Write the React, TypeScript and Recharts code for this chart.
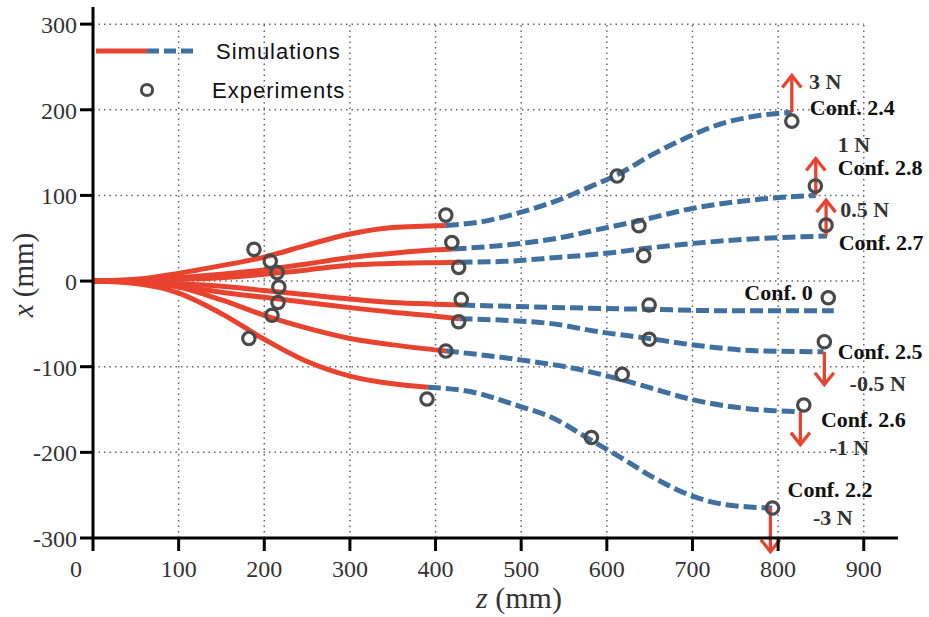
import React from 'react'
import {
  ComposedChart,
  Line,
  Scatter,
  XAxis,
  YAxis,
  ReferenceLine,
  ReferenceDot,
  Legend,
  Label,
} from 'recharts'

type Pt = { z: number; v: number }

const X_TICKS = [0, 100, 200, 300, 400, 500, 600, 700, 800, 900]
const Y_TICKS = [-300, -200, -100, 0, 100, 200, 300]
const GRID_Z = [100, 200, 300, 400, 500, 600, 700, 800, 900]
const GRID_X = [-200, -100, 0, 100, 200, 300]

// simulated trajectories: solid (first part) and dashed (second part), [z, x] in mm
const RED_24 = [[0, 0], [50, 2], [100, 9], [150, 18], [200, 28], [250, 42], [300, 55], [350, 62.5], [412, 65]]
const BLUE_24 = [[412, 65], [452, 69], [495, 79], [542, 94], [580, 110], [612, 124], [652, 147], [701, 171], [720, 179], [738, 185], [759, 190], [780, 193.5], [816, 197]]

const RED_28 = [[0, 0], [50, 1], [100, 4], [150, 8], [200, 13], [250, 20], [300, 27.5], [350, 32.5], [400, 36.5], [421, 37.5]]
const BLUE_28 = [[421, 37.5], [482, 42], [542, 50], [589, 60], [638, 70.5], [701, 85], [780, 95.7], [844, 100]]

const RED_27 = [[0, 0], [50, 0.5], [100, 2], [150, 4], [200, 8], [250, 13], [300, 18.5], [350, 20.5], [400, 21.5], [428, 22]]
const BLUE_27 = [[428, 22], [480, 23], [542, 27.6], [600, 32.5], [644, 38], [701, 44], [780, 49.8], [857, 52.5]]

const RED_0 = [[0, 0], [50, -0.5], [100, -3], [150, -6], [200, -11], [250, -16], [300, -21], [350, -25], [400, -27], [431, -28]]
const BLUE_0 = [[431, -28], [533, -30.7], [648, -33], [738, -34.6], [865, -34.6]]

const RED_25 = [[0, 0], [50, -1], [100, -6], [150, -13], [200, -19], [250, -25], [300, -31], [350, -36.5], [400, -41], [428, -44]]
const BLUE_25 = [[428, -44], [533, -49.4], [589, -59], [649, -67], [701, -74.6], [780, -81.6], [853, -82.5]]

const RED_26 = [[0, 0], [50, -1], [100, -7], [150, -22], [200, -40], [250, -55], [300, -67], [350, -74.5], [412, -81.6]]
const BLUE_26 = [[412, -81.6], [499, -92], [567, -103], [618, -115.4], [652, -125], [701, -138.7], [780, -150.4], [826, -152.5]]

const RED_22 = [[0, 0], [50, -3], [100, -14], [150, -38], [200, -68], [250, -94], [300, -111], [350, -120], [391, -124]]
const BLUE_22 = [[391, -124], [440, -129], [499, -146.5], [533, -158], [584, -187.3], [618, -207], [652, -228], [701, -251.5], [738, -261], [793, -265]]

// measured positions
const EXPERIMENTS = [
  [188, 37], [207, 23], [215, 10], [217, -7], [216, -25], [209, -40], [182, -67],
  [412, 77], [419, 45], [427, 16], [430, -21.4], [427, -47.5], [412, -81.7], [390, -137.7],
  [612, 122.6], [637.5, 64.6], [643, 29.6], [649.4, -28], [649.4, -68], [618, -109], [582, -182.7],
  [816, 186.7], [843.5, 111], [856, 65.3], [858.6, -19.5], [854, -70.8], [830, -144.7], [793.5, -265],
]

// applied end forces: z, start x, arrow tip x
const FORCE_ARROWS = [
  [816, 197, 240],
  [844, 100, 143],
  [856, 52.5, 94.5],
  [854, -82.5, -121],
  [826, -152.5, -191],
  [791, -265, -316],
]

const ANNOTATIONS: [number, number, string][] = [
  [836, 224, '3 N'],
  [837, 193.7, 'Conf. 2.4'],
  [869.5, 151, '1 N'],
  [869.5, 123.7, 'Conf. 2.8'],
  [872.7, 75, '0.5 N'],
  [870.7, 36, 'Conf. 2.7'],
  [760.5, -22.2, 'Conf. 0'],
  [869.5, -91, 'Conf. 2.5'],
  [883.5, -128, '-0.5 N'],
  [850, -170, 'Conf. 2.6'],
  [860, -203, '-1 N'],
  [811, -252.4, 'Conf. 2.2'],
  [840.7, -284.7, '-3 N'],
]

const toPts = (a: number[][]): Pt[] => a.map(([z, v]) => ({ z, v }))

const SERIES = [
  { id: '2.4', red: toPts(RED_24), blue: toPts(BLUE_24) },
  { id: '2.8', red: toPts(RED_28), blue: toPts(BLUE_28) },
  { id: '2.7', red: toPts(RED_27), blue: toPts(BLUE_27) },
  { id: '0', red: toPts(RED_0), blue: toPts(BLUE_0) },
  { id: '2.5', red: toPts(RED_25), blue: toPts(BLUE_25) },
  { id: '2.6', red: toPts(RED_26), blue: toPts(BLUE_26) },
  { id: '2.2', red: toPts(RED_22), blue: toPts(BLUE_22) },
]

const RED = '#e8432f'
const BLUE = '#40709f'
const SERIF = '"Liberation Serif", "Times New Roman", serif'
const SANS = '"Liberation Sans", Arial, sans-serif'

// eslint-disable-next-line @typescript-eslint/no-explicit-any
function XTick({ x, y, payload }: any) {
  const dx = payload.value === 0 ? -17 : 0
  return (
    <text x={x + dx} y={y + 24} textAnchor="middle" fontSize={24} fontFamily={SERIF} fill="#333">
      {payload.value}
    </text>
  )
}

// eslint-disable-next-line @typescript-eslint/no-explicit-any
function YTick({ x, y, payload }: any) {
  return (
    <text x={x - 1} y={y + 9} textAnchor="end" fontSize={24} fontFamily={SERIF} fill="#333">
      {payload.value}
    </text>
  )
}

// eslint-disable-next-line @typescript-eslint/no-explicit-any
function XLabel({ viewBox }: any) {
  return (
    <text x={viewBox.x + 426} y={viewBox.y + 70} textAnchor="middle" fontSize={30} fontFamily={SERIF} fill="#333">
      <tspan fontStyle="italic">z</tspan> (mm)
    </text>
  )
}

// eslint-disable-next-line @typescript-eslint/no-explicit-any
function YLabel({ viewBox }: any) {
  const cx = viewBox.x + 33
  const cy = viewBox.y + 268
  return (
    <text x={cx} y={cy} transform={`rotate(-90, ${cx}, ${cy})`} textAnchor="middle" fontSize={29} fontFamily={SERIF} fill="#333">
      <tspan fontStyle="italic">x</tspan> (mm)
    </text>
  )
}

// eslint-disable-next-line @typescript-eslint/no-explicit-any
function Arrow({ x1, y1, x2, y2 }: any) {
  const dir = y2 < y1 ? -1 : 1
  return (
    <g>
      <line x1={x1} y1={y1} x2={x2} y2={y2} stroke={RED} strokeWidth={3.3} />
      <polyline
        points={`${x2 - 9.5},${y2 - dir * 12} ${x2},${y2} ${x2 + 9.5},${y2 - dir * 12}`}
        fill="none"
        stroke={RED}
        strokeWidth={3.3}
      />
    </g>
  )
}

// eslint-disable-next-line @typescript-eslint/no-explicit-any
function Ring({ cx, cy }: any) {
  return <circle cx={cx} cy={cy} r={6.2} fill="none" stroke="#4a4a4a" strokeWidth={3.2} />
}

function LegendBox() {
  return (
    <svg width={280} height={80} style={{ display: 'block' }}>
      <line x1={0} y1={15} x2={51} y2={15} stroke={RED} strokeWidth={5} />
      <line x1={51} y1={15} x2={98} y2={15} stroke={BLUE} strokeWidth={5} strokeDasharray="12 5" />
      <text x={120} y={23} fontSize={22} fontFamily={SANS} letterSpacing={1} fill="#111">
        Simulations
      </text>
      <circle cx={51} cy={54} r={5.6} fill="none" stroke="#4a4a4a" strokeWidth={3} />
      <text x={116} y={62} fontSize={22} fontFamily={SANS} letterSpacing={1} fill="#111">
        Experiments
      </text>
    </svg>
  )
}

const gridStyle = { stroke: '#666', strokeWidth: 1.5, strokeDasharray: '1.5 4' }

export default function App() {
  const exp = toPts(EXPERIMENTS)
  return (
    <div style={{ position: 'absolute', left: 0, top: 0, background: '#fff' }}>
      <ComposedChart width={929} height={617} margin={{ top: 7, right: 31, bottom: 0, left: 0 }}>
        <XAxis
          type="number"
          dataKey="z"
          domain={[0, 940]}
          ticks={X_TICKS}
          interval={0}
          height={79}
          tickSize={13}
          axisLine={{ stroke: '#000', strokeWidth: 3 }}
          tickLine={{ stroke: '#000', strokeWidth: 3 }}
          tick={<XTick />}
        >
          <Label content={<XLabel />} />
        </XAxis>
        <YAxis
          type="number"
          dataKey="v"
          domain={[-300, 320]}
          ticks={Y_TICKS}
          interval={0}
          width={93}
          tickSize={13}
          axisLine={{ stroke: '#000', strokeWidth: 3 }}
          tickLine={{ stroke: '#000', strokeWidth: 3 }}
          tick={<YTick />}
        >
          <Label content={<YLabel />} />
        </YAxis>

        {GRID_X.map((v) => (
          <ReferenceLine key={`gx${v}`} segment={[{ x: 0, y: v }, { x: 900, y: v }]} {...gridStyle} />
        ))}
        {GRID_Z.map((z) => (
          <ReferenceLine key={`gz${z}`} segment={[{ x: z, y: -300 }, { x: z, y: 300 }]} {...gridStyle} />
        ))}

        {SERIES.map((s) => (
          <Line
            key={`r${s.id}`}
            data={s.red}
            dataKey="v"
            type="monotone"
            stroke={RED}
            strokeWidth={5}
            dot={false}
            activeDot={false}
            isAnimationActive={false}
          />
        ))}
        {SERIES.map((s) => (
          <Line
            key={`b${s.id}`}
            data={s.blue}
            dataKey="v"
            type="monotone"
            stroke={BLUE}
            strokeWidth={5}
            strokeDasharray="13 5"
            dot={false}
            activeDot={false}
            isAnimationActive={false}
          />
        ))}

        {FORCE_ARROWS.map(([z, from, to]) => (
          <ReferenceLine
            key={`a${z}`}
            segment={[{ x: z, y: from }, { x: z, y: to }]}
            ifOverflow="visible"
            shape={<Arrow />}
          />
        ))}

        <Scatter data={exp} dataKey="v" shape={<Ring />} isAnimationActive={false} />

        {ANNOTATIONS.map(([z, v, text]) => (
          <ReferenceDot
            key={text}
            x={z}
            y={v}
            r={1}
            ifOverflow="visible"
            // eslint-disable-next-line @typescript-eslint/no-explicit-any
            shape={(p: any) => (
              <text
                x={p.cx}
                y={p.cy}
                fontSize={22}
                fontWeight="bold"
                fontFamily={SERIF}
                fill={text.endsWith('N') ? '#333' : '#111'}
              >
                {text}
              </text>
            )}
          />
        ))}

        <Legend
          layout="horizontal"
          verticalAlign="middle"
          align="center"
          wrapperStyle={{ left: 96, top: 36, width: 280, height: 80 }}
          content={() => <LegendBox />}
        />
      </ComposedChart>
    </div>
  )
}
